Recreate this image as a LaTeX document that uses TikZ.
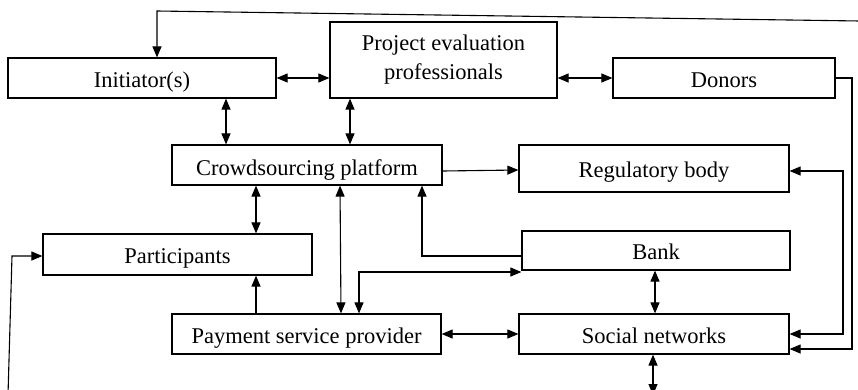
\documentclass[tikz,border=0pt]{standalone}
\usepackage{fontspec}
\setmainfont{Liberation Serif}
\usetikzlibrary{arrows.meta}
\begin{document}
\begin{tikzpicture}[x=1pt,y=-1pt,
  box/.style={draw,line width=1.2pt,rectangle,inner sep=0pt,align=center,
    font=\fontsize{22.5}{29}\selectfont},
  one/.style={box,text height=18pt,text depth=0pt},
  ln/.style={line width=1.1pt},
  arr/.style={ln,-{Triangle[length=11pt,width=9pt]}},
  darr/.style={ln,{Triangle[length=11pt,width=9pt]}-{Triangle[length=11pt,width=9pt]}}]
\useasboundingbox (0,0) rectangle (858,389);
\clip (0,0) rectangle (858,389);
\node[one,minimum width=268pt,minimum height=40pt] (init) at (142,78) {Initiator(s)};
\node[box,minimum width=227pt,minimum height=76pt] (pep) at (443.5,60) {Project evaluation\\professionals};
\node[one,minimum width=222pt,minimum height=40pt] (donors) at (724,78) {Donors};
\node[one,minimum width=270pt,minimum height=40pt,text height=20pt] (crowd) at (307,165) {Crowdsourcing platform};
\node[one,minimum width=270pt,minimum height=47pt] (reg) at (654,168.5) {Regulatory body};
\node[one,minimum width=269pt,minimum height=41pt] (part) at (177.5,254.5) {Participants};
\node[one,minimum width=268pt,minimum height=39pt] (bank) at (656,250.5) {Bank};
\node[one,minimum width=269pt,minimum height=40pt] (psp) at (306.5,334) {Payment service provider};
\node[one,minimum width=270pt,minimum height=40pt] (social) at (654,334) {Social networks};
\coordinate (topR) at (860,21);
\coordinate (botL) at (8,395);
\coordinate (botS) at (653,395);
% connectors
\draw[darr] (init.east) -- (init.east -| pep.west);
\draw[darr] (pep.east |- donors.west) -- (donors.west);
\draw[darr] (init.south -| 226,0) -- (crowd.north -| 226,0);
\draw[darr] (pep.south -| 350,0) -- (crowd.north -| 350,0);
\draw[arr] (crowd.east |- 0,171) -- (reg.west |- 0,170);
\draw[darr] (crowd.south -| 256,0) -- (part.north -| 256,0);
\draw[darr] (crowd.south -| 340,0) -- (psp.north -| 341,0);
\draw[arr] (bank.west |- 0,256) -| (crowd.south -| 422,0);
\draw[darr] (bank.west |- 0,272) -| (psp.north -| 359,0);
\draw[arr] (psp.north -| 256,0) -- (part.south -| 256,0);
\draw[darr] (psp.east |- 0,334) -- (social.west |- 0,334);
\draw[darr] (bank.south -| 655,0) -- (social.north -| 655,0);
\draw[darr] (social.south -| 653,0) -- (botS);
\draw[darr] (reg.east |- 0,171) -- (843,171) -- (843,334) -- (social.east |- 0,334);
\draw[arr] (donors.east) -- (852,78) -- (852,349) -- (social.east |- 0,349);
\draw[arr] (topR) -- (157,11) -- (init.north -| 157,0);
\draw[arr] (botL) -- (12,256) -- (part.west |- 0,256);
\end{tikzpicture}
\end{document}
